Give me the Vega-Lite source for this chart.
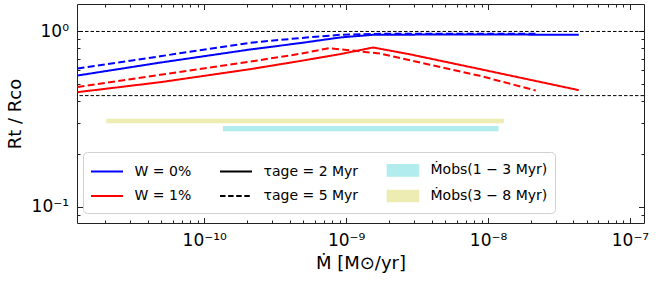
{
  "$schema": "https://vega.github.io/schema/vega-lite/v6.json",
  "autosize": {"type": "none"},
  "padding": {"left": 77, "top": 4, "right": 15, "bottom": 59},
  "width": 567,
  "height": 219,
  "datasets": {
    "curves": [
      {"m": 1.28e-11, "r": 0.560, "w": "W = 0%", "t": "2 Myr"},
      {"m": 4.90e-11, "r": 0.664, "w": "W = 0%", "t": "2 Myr"},
      {"m": 2.11e-10, "r": 0.789, "w": "W = 0%", "t": "2 Myr"},
      {"m": 4.74e-10, "r": 0.858, "w": "W = 0%", "t": "2 Myr"},
      {"m": 9.06e-10, "r": 0.924, "w": "W = 0%", "t": "2 Myr"},
      {"m": 1.55e-9, "r": 0.957, "w": "W = 0%", "t": "2 Myr"},
      {"m": 5.38e-9, "r": 0.961, "w": "W = 0%", "t": "2 Myr"},
      {"m": 4.36e-8, "r": 0.958, "w": "W = 0%", "t": "2 Myr"},
      {"m": 1.28e-11, "r": 0.614, "w": "W = 0%", "t": "5 Myr"},
      {"m": 4.90e-11, "r": 0.722, "w": "W = 0%", "t": "5 Myr"},
      {"m": 2.11e-10, "r": 0.862, "w": "W = 0%", "t": "5 Myr"},
      {"m": 4.74e-10, "r": 0.917, "w": "W = 0%", "t": "5 Myr"},
      {"m": 9.06e-10, "r": 0.957, "w": "W = 0%", "t": "5 Myr"},
      {"m": 1.73e-9, "r": 0.970, "w": "W = 0%", "t": "5 Myr"},
      {"m": 2.17e-8, "r": 0.970, "w": "W = 0%", "t": "5 Myr"},
      {"m": 1.28e-11, "r": 0.450, "w": "W = 1%", "t": "2 Myr"},
      {"m": 4.90e-11, "r": 0.513, "w": "W = 1%", "t": "2 Myr"},
      {"m": 2.11e-10, "r": 0.609, "w": "W = 1%", "t": "2 Myr"},
      {"m": 4.74e-10, "r": 0.678, "w": "W = 1%", "t": "2 Myr"},
      {"m": 9.06e-10, "r": 0.742, "w": "W = 1%", "t": "2 Myr"},
      {"m": 1.55e-9, "r": 0.810, "w": "W = 1%", "t": "2 Myr"},
      {"m": 2.82e-9, "r": 0.740, "w": "W = 1%", "t": "2 Myr"},
      {"m": 1.081e-8, "r": 0.588, "w": "W = 1%", "t": "2 Myr"},
      {"m": 4.36e-8, "r": 0.462, "w": "W = 1%", "t": "2 Myr"},
      {"m": 1.28e-11, "r": 0.482, "w": "W = 1%", "t": "5 Myr"},
      {"m": 4.90e-11, "r": 0.565, "w": "W = 1%", "t": "5 Myr"},
      {"m": 2.11e-10, "r": 0.673, "w": "W = 1%", "t": "5 Myr"},
      {"m": 4.74e-10, "r": 0.745, "w": "W = 1%", "t": "5 Myr"},
      {"m": 7.62e-10, "r": 0.803, "w": "W = 1%", "t": "5 Myr"},
      {"m": 1.73e-9, "r": 0.748, "w": "W = 1%", "t": "5 Myr"},
      {"m": 3.89e-9, "r": 0.645, "w": "W = 1%", "t": "5 Myr"},
      {"m": 8.75e-9, "r": 0.558, "w": "W = 1%", "t": "5 Myr"},
      {"m": 2.17e-8, "r": 0.460, "w": "W = 1%", "t": "5 Myr"}
    ],
    "bands": [
      {"label": "Ṁobs(3 − 8 Myr)", "m1": 2.04e-11, "m2": 1.29e-8, "r1": 0.299, "r2": 0.3175},
      {"label": "Ṁobs(1 − 3 Myr)", "m1": 1.355e-10, "m2": 1.185e-8, "r1": 0.2689, "r2": 0.2884}
    ],
    "refs": [{"ref": 1.0}, {"ref": 0.43}]
  },
  "config": {
    "view": {"stroke": "#222", "strokeWidth": 1},
    "font": "DejaVu Sans",
    "axis": {
      "grid": false, "domain": false, "tickColor": "#222", "tickWidth": 1,
      "labelFont": "DejaVu Sans", "labelFontSize": 17, "labelColor": "black",
      "titleFont": "DejaVu Sans", "titleFontSize": 18, "titleFontWeight": "normal", "titleColor": "black",
      "labelOverlap": false, "labelFlush": false, "labelBound": false
    },
    "legend": {
      "orient": "none", "legendX": 6, "legendY": 148, "columns": 3, "direction": "horizontal",
      "columnPadding": 24, "rowPadding": 5, "padding": 7, "symbolSize": 400, "symbolStrokeWidth": 2,
      "symbolOffset": 6, "labelOffset": 16.5,
      "labelFont": "DejaVu Sans", "labelFontSize": 14, "labelColor": "black", "labelLimit": 300,
      "strokeColor": "#d0d0d0", "fillColor": "white", "cornerRadius": 4, "gridAlign": "each"
    }
  },
  "resolve": {"axis": {"x": "independent", "y": "independent"}},
  "layer": [
    {
      "data": {"name": "refs"},
      "mark": {"type": "rule", "color": "black", "strokeWidth": 1, "strokeDash": [3.5, 2]},
      "encoding": {
        "y": {"field": "ref", "type": "quantitative", "scale": {"type": "log", "domain": [0.0805, 1.435]}, "axis": null}
      }
    },
    {
      "data": {"name": "bands"},
      "mark": {"type": "rect", "opacity": 1},
      "encoding": {
        "x": {"field": "m1", "type": "quantitative",
          "scale": {"type": "log", "domain": [1.27e-11, 1.256e-7]},
          "axis": {
            "orient": "bottom",
            "values": [2e-11,3e-11,4e-11,5e-11,6e-11,7e-11,8e-11,9e-11,1e-10,2e-10,3e-10,4e-10,5e-10,6e-10,7e-10,8e-10,9e-10,1e-9,2e-9,3e-9,4e-9,5e-9,6e-9,7e-9,8e-9,9e-9,1e-8,2e-8,3e-8,4e-8,5e-8,6e-8,7e-8,8e-8,9e-8,1e-7],
            "labelExpr": "datum.value == 1e-10 ? '10⁻¹⁰' : datum.value == 1e-9 ? '10⁻⁹' : datum.value == 1e-8 ? '10⁻⁸' : datum.value == 1e-7 ? '10⁻⁷' : ''",
            "tickSize": {"condition": {"test": "abs(log(datum.value)/LN10 - round(log(datum.value)/LN10)) < 0.001", "value": -5.5}, "value": -3},
            "labelPadding": 15,
            "title": "Ṁ [M⊙/yr]",
            "titlePadding": 3
          }
        },
        "x2": {"field": "m2"},
        "y": {"field": "r1", "type": "quantitative",
          "scale": {"type": "log", "domain": [0.0805, 1.435]},
          "axis": {
            "orient": "left",
            "values": [0.09,0.1,0.2,0.3,0.4,0.5,0.6,0.7,0.8,0.9,1],
            "labelExpr": "datum.value == 1 ? '10⁰' : datum.value == 0.1 ? '10⁻¹' : ''",
            "tickSize": {"condition": {"test": "abs(log(datum.value)/LN10 - round(log(datum.value)/LN10)) < 0.001", "value": -5.5}, "value": -3},
            "labelPadding": 14,
            "title": "Rt / Rco",
            "titlePadding": 7
          }
        },
        "y2": {"field": "r2"},
        "color": {"field": "label", "type": "nominal",
          "scale": {"domain": ["W = 0%", "τage = 2 Myr", "Ṁobs(1 − 3 Myr)", "W = 1%", "τage = 5 Myr", "Ṁobs(3 − 8 Myr)"],
                    "range": ["#0000ff", "#000000", "#b3ecec", "#ff0000", "#000000", "#ececb3"]},
          "legend": {
            "title": null,
            "encode": {"symbols": {"update": {
              "shape": {"signal": "indexof(datum.label, 'obs') >= 0 ? 'M-1.53,-0.53H1.53V0.53H-1.53Z' : 'M-1.6,0H1.6'"},
              "fill": {"signal": "indexof(datum.label, 'obs') >= 0 ? scale('color', datum.value) : 'transparent'"},
              "stroke": {"signal": "indexof(datum.label, 'obs') >= 0 ? 'transparent' : scale('color', datum.value)"},
              "strokeDash": {"signal": "indexof(datum.label, '5 Myr') >= 0 ? [5.5, 2.6] : [1, 0]"},
              "strokeWidth": {"value": 2},
              "opacity": {"value": 1}
            }}}
          }
        }
      }
    },
    {
      "data": {"name": "curves"},
      "mark": {"type": "line", "strokeWidth": 2, "strokeCap": "butt"},
      "encoding": {
        "x": {"field": "m", "type": "quantitative",
          "scale": {"type": "log", "domain": [1.27e-11, 1.256e-7]},
          "axis": {
            "orient": "top",
            "values": [2e-11,3e-11,4e-11,5e-11,6e-11,7e-11,8e-11,9e-11,1e-10,2e-10,3e-10,4e-10,5e-10,6e-10,7e-10,8e-10,9e-10,1e-9,2e-9,3e-9,4e-9,5e-9,6e-9,7e-9,8e-9,9e-9,1e-8,2e-8,3e-8,4e-8,5e-8,6e-8,7e-8,8e-8,9e-8,1e-7],
            "labels": false,
            "tickSize": {"condition": {"test": "abs(log(datum.value)/LN10 - round(log(datum.value)/LN10)) < 0.001", "value": -5.5}, "value": -3},
            "title": null
          }
        },
        "y": {"field": "r", "type": "quantitative",
          "scale": {"type": "log", "domain": [0.0805, 1.435]},
          "axis": {
            "orient": "right",
            "values": [0.09,0.1,0.2,0.3,0.4,0.5,0.6,0.7,0.8,0.9,1],
            "labels": false,
            "tickSize": {"condition": {"test": "abs(log(datum.value)/LN10 - round(log(datum.value)/LN10)) < 0.001", "value": -5.5}, "value": -3},
            "title": null
          }
        },
        "color": {"field": "w", "type": "nominal",
          "scale": {"domain": ["W = 0%", "τage = 2 Myr", "Ṁobs(1 − 3 Myr)", "W = 1%", "τage = 5 Myr", "Ṁobs(3 − 8 Myr)"],
                    "range": ["#0000ff", "#000000", "#b3ecec", "#ff0000", "#000000", "#ececb3"]},
          "legend": {
            "title": null,
            "encode": {"symbols": {"update": {
              "shape": {"signal": "indexof(datum.label, 'obs') >= 0 ? 'M-1.53,-0.53H1.53V0.53H-1.53Z' : 'M-1.6,0H1.6'"},
              "fill": {"signal": "indexof(datum.label, 'obs') >= 0 ? scale('color', datum.value) : 'transparent'"},
              "stroke": {"signal": "indexof(datum.label, 'obs') >= 0 ? 'transparent' : scale('color', datum.value)"},
              "strokeDash": {"signal": "indexof(datum.label, '5 Myr') >= 0 ? [5.5, 2.6] : [1, 0]"},
              "strokeWidth": {"value": 2},
              "opacity": {"value": 1}
            }}}
          }
        },
        "strokeDash": {"field": "t", "type": "nominal",
          "scale": {"domain": ["2 Myr", "5 Myr"], "range": [[1, 0], [7, 3.3]]},
          "legend": null
        }
      }
    }
  ]
}
